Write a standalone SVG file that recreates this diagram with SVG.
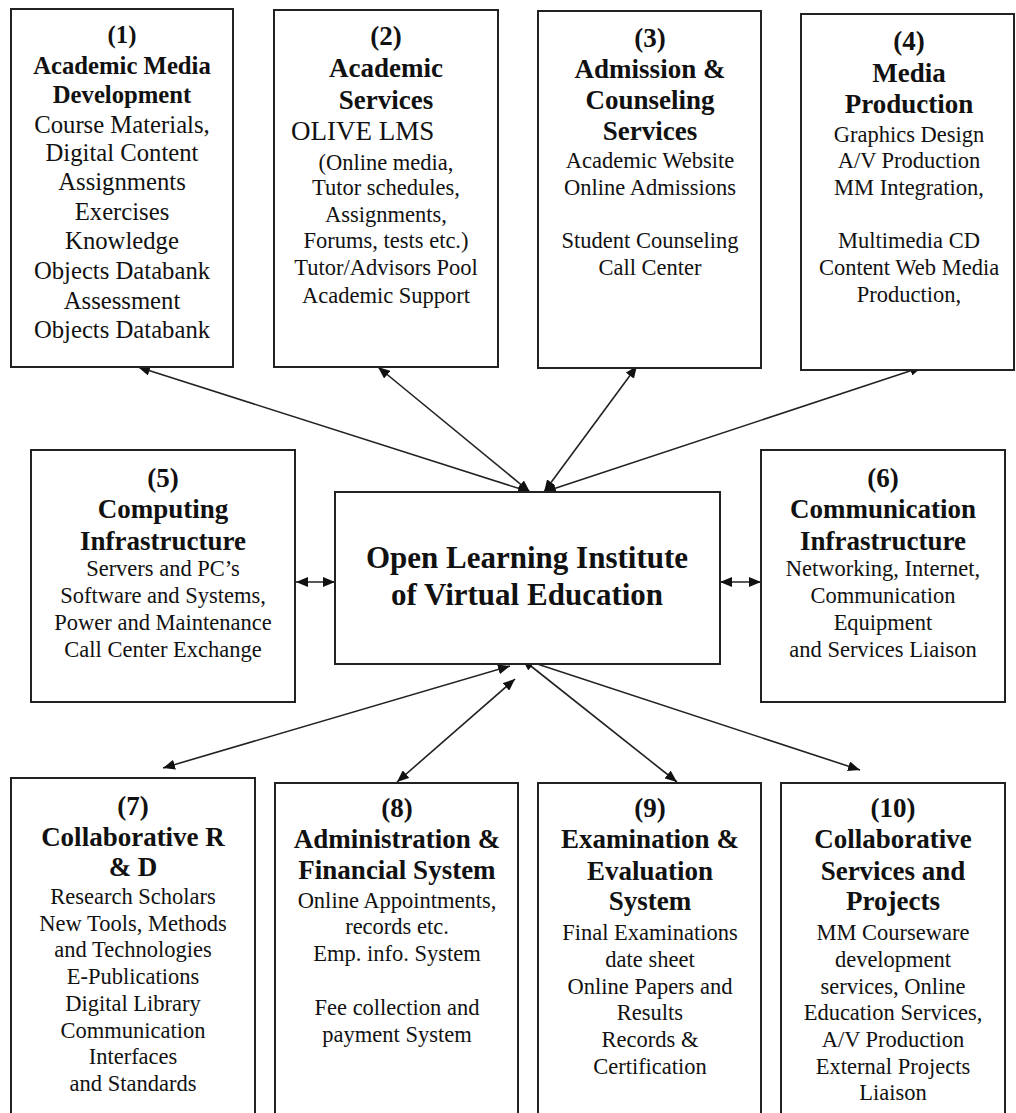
<svg xmlns="http://www.w3.org/2000/svg" width="1016" height="1113" viewBox="0 0 1016 1113">
<defs>
<marker id="ah" viewBox="0 0 12 10" refX="12" refY="5" markerWidth="12" markerHeight="10" markerUnits="userSpaceOnUse" orient="auto-start-reverse">
<path d="M0,0 L12,5 L0,10 z" fill="#111"/>
</marker>
<style>
.box{fill:#fff;stroke:#222;stroke-width:2}
text{font-family:"Liberation Serif","Times New Roman",serif;fill:#111;text-anchor:middle}
.t{font-weight:bold;font-size:27px}
.b{font-size:22.5px}
.t1{font-weight:bold;font-size:24.7px}
.b1{font-size:24.7px}
.c{font-weight:bold;font-size:31px}
.con{stroke:#222;stroke-width:1.6;fill:none;marker-start:url(#ah);marker-end:url(#ah)}
</style>
</defs>
<rect width="1016" height="1113" fill="#fff"/>
<g id="connectors">
<line class="con" x1="138" y1="367" x2="530" y2="492"/>
<line class="con" x1="378" y1="367" x2="530" y2="492"/>
<line class="con" x1="637" y1="366" x2="544" y2="492"/>
<line class="con" x1="922" y1="367" x2="544" y2="492"/>
<line class="con" x1="296" y1="582" x2="335" y2="582"/>
<line class="con" x1="720" y1="582" x2="761" y2="582"/>
<line class="con" x1="510" y1="666" x2="163" y2="768"/>
<line class="con" x1="515" y1="679" x2="397" y2="782"/>
<line class="con" x1="522" y1="659" x2="677" y2="782"/>
<line class="con" x1="522" y1="659" x2="860" y2="770"/>
</g>
<g id="node1">
<rect class="box" x="11" y="9" width="222" height="358"/>
<text class="t1" x="122" y="43">(1)</text>
<text class="t1" x="122" y="74">Academic Media</text>
<text class="t1" x="122" y="103">Development</text>
<text class="b1" x="122" y="133">Course Materials,</text>
<text class="b1" x="122" y="161">Digital Content</text>
<text class="b1" x="122" y="190">Assignments</text>
<text class="b1" x="122" y="220">Exercises</text>
<text class="b1" x="122" y="249">Knowledge</text>
<text class="b1" x="122" y="279">Objects Databank</text>
<text class="b1" x="122" y="309">Assessment</text>
<text class="b1" x="122" y="338">Objects Databank</text>
</g>
<g id="node2">
<rect class="box" x="274" y="10" width="224" height="357"/>
<text class="t" x="386" y="45">(2)</text>
<text class="t" x="386" y="77">Academic</text>
<text class="t" x="386" y="109">Services</text>
<text x="291" y="140" style="font-size:27px;text-anchor:start">OLIVE LMS</text>
<text class="b" x="386" y="170">(Online media,</text>
<text class="b" x="386" y="195">Tutor schedules,</text>
<text class="b" x="386" y="222">Assignments,</text>
<text class="b" x="386" y="248">Forums, tests etc.)</text>
<text class="b" x="386" y="275">Tutor/Advisors Pool</text>
<text class="b" x="386" y="303">Academic Support</text>
</g>
<g id="node3">
<rect class="box" x="538" y="11" width="223" height="357"/>
<text class="t" x="650" y="47">(3)</text>
<text class="t" x="650" y="78">Admission &amp;</text>
<text class="t" x="650" y="109">Counseling</text>
<text class="t" x="650" y="140">Services</text>
<text class="b" x="650" y="168">Academic Website</text>
<text class="b" x="650" y="195">Online Admissions</text>
<text class="b" x="650" y="248">Student Counseling</text>
<text class="b" x="650" y="275">Call Center</text>
</g>
<g id="node4">
<rect class="box" x="801" y="14" width="213" height="356"/>
<text class="t" x="909" y="50">(4)</text>
<text class="t" x="909" y="82">Media</text>
<text class="t" x="909" y="113">Production</text>
<text class="b" x="909" y="142">Graphics Design</text>
<text class="b" x="909" y="168">A/V Production</text>
<text class="b" x="909" y="195">MM Integration,</text>
<text class="b" x="909" y="248">Multimedia CD</text>
<text class="b" x="909" y="275">Content Web Media</text>
<text class="b" x="909" y="302">Production,</text>
</g>
<g id="node5">
<rect class="box" x="31" y="450" width="264" height="252"/>
<text class="t" x="163" y="487">(5)</text>
<text class="t" x="163" y="518">Computing</text>
<text class="t" x="163" y="550">Infrastructure</text>
<text class="b" x="163" y="576">Servers and PC’s</text>
<text class="b" x="163" y="603">Software and Systems,</text>
<text class="b" x="163" y="630">Power and Maintenance</text>
<text class="b" x="163" y="657">Call Center Exchange</text>
</g>
<g id="center">
<rect class="box" x="335" y="492" width="385" height="172"/>
<text class="c" x="527" y="568">Open Learning Institute</text>
<text class="c" x="527" y="605">of Virtual Education</text>
</g>
<g id="node6">
<rect class="box" x="761" y="450" width="244" height="252"/>
<text class="t" x="883" y="487">(6)</text>
<text class="t" x="883" y="518">Communication</text>
<text class="t" x="883" y="550">Infrastructure</text>
<text class="b" x="883" y="576">Networking, Internet,</text>
<text class="b" x="883" y="603">Communication</text>
<text class="b" x="883" y="630">Equipment</text>
<text class="b" x="883" y="657">and Services Liaison</text>
</g>
<g id="node7">
<rect class="box" x="11" y="778" width="244" height="345"/>
<text class="t" x="133" y="815">(7)</text>
<text class="t" x="133" y="846">Collaborative R</text>
<text class="t" x="133" y="876">&amp; D</text>
<text class="b" x="133" y="904">Research Scholars</text>
<text class="b" x="133" y="931">New Tools, Methods</text>
<text class="b" x="133" y="957">and Technologies</text>
<text class="b" x="133" y="984">E-Publications</text>
<text class="b" x="133" y="1011">Digital Library</text>
<text class="b" x="133" y="1038">Communication</text>
<text class="b" x="133" y="1064">Interfaces</text>
<text class="b" x="133" y="1091">and Standards</text>
</g>
<g id="node8">
<rect class="box" x="275" y="783" width="243" height="340"/>
<text class="t" x="397" y="817">(8)</text>
<text class="t" x="397" y="848">Administration &amp;</text>
<text class="t" x="397" y="879">Financial System</text>
<text class="b" x="397" y="908">Online Appointments,</text>
<text class="b" x="397" y="934">records etc.</text>
<text class="b" x="397" y="961">Emp. info. System</text>
<text class="b" x="397" y="1015">Fee collection and</text>
<text class="b" x="397" y="1042">payment System</text>
</g>
<g id="node9">
<rect class="box" x="538" y="783" width="223" height="340"/>
<text class="t" x="650" y="817">(9)</text>
<text class="t" x="650" y="848">Examination &amp;</text>
<text class="t" x="650" y="880">Evaluation</text>
<text class="t" x="650" y="910">System</text>
<text class="b" x="650" y="940">Final Examinations</text>
<text class="b" x="650" y="967">date sheet</text>
<text class="b" x="650" y="994">Online Papers and</text>
<text class="b" x="650" y="1020">Results</text>
<text class="b" x="650" y="1047">Records &amp;</text>
<text class="b" x="650" y="1074">Certification</text>
</g>
<g id="node10">
<rect class="box" x="781" y="783" width="224" height="340"/>
<text class="t" x="893" y="817">(10)</text>
<text class="t" x="893" y="848">Collaborative</text>
<text class="t" x="893" y="880">Services and</text>
<text class="t" x="893" y="910">Projects</text>
<text class="b" x="893" y="940">MM Courseware</text>
<text class="b" x="893" y="967">development</text>
<text class="b" x="893" y="994">services, Online</text>
<text class="b" x="893" y="1020">Education Services,</text>
<text class="b" x="893" y="1047">A/V Production</text>
<text class="b" x="893" y="1074">External Projects</text>
<text class="b" x="893" y="1100">Liaison</text>
</g>
</svg>
